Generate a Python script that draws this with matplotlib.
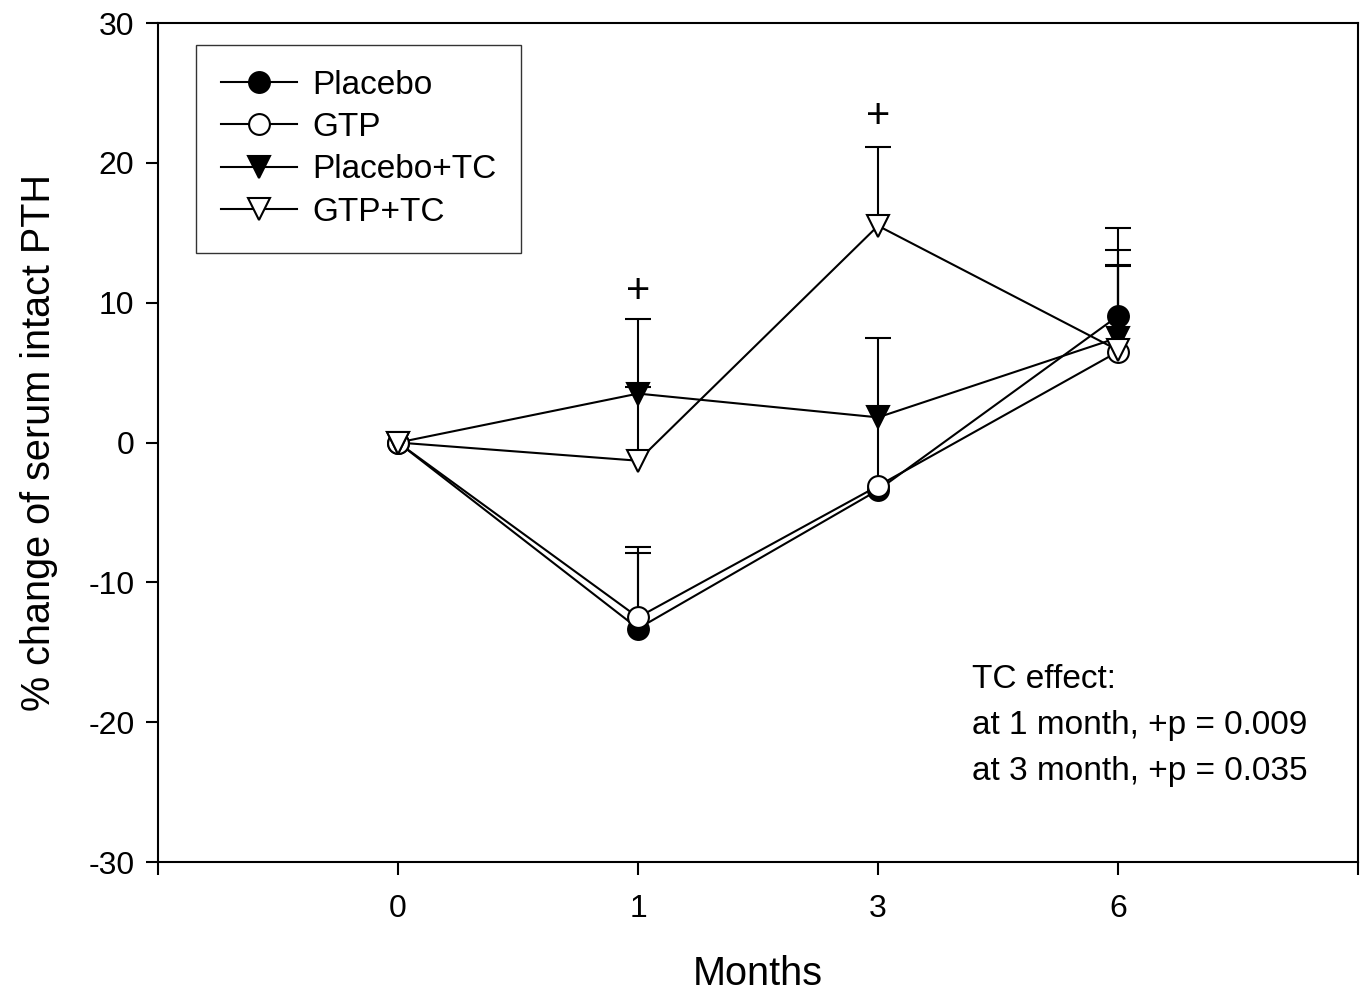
import numpy as np
import matplotlib
matplotlib.use("Agg")
import matplotlib.pyplot as plt
from matplotlib.lines import Line2D

plt.rcParams['font.family'] = ['Liberation Sans', 'DejaVu Sans']
plt.rcParams['axes.unicode_minus'] = False

months = ['0', '1', '3', '6']

placebo = [0, -13.3, -3.4, 9.05]
gtp = [0, -12.5, -3.1, 6.5]
placebo_tc = [0, 3.5, 1.8, 7.5]
gtp_tc = [0, -1.3, 15.5, 6.6]

# upper error bars only (SE)
placebo_err = [0, 5.8, 0, 6.3]
gtp_err = [0, 4.6, 10.6, 6.1]
placebo_tc_err = [0, 0.5, 0, 6.3]
gtp_tc_err = [0, 10.1, 5.6, 6.1]

plus_y = [10.8, 23.3]
plus_x = [1, 2]

fig = plt.figure(figsize=(13.65, 9.92), dpi=100)
ax = fig.add_axes([0.1158, 0.131, 0.8791, 0.8458])

x = np.arange(len(months))

series = [
    ("Placebo", placebo, placebo_err, 'o', 'black', 15),
    ("GTP", gtp, gtp_err, 'o', 'white', 15),
    ("Placebo+TC", placebo_tc, placebo_tc_err, 'v', 'black', 16),
    ("GTP+TC", gtp_tc, gtp_tc_err, 'v', 'white', 16),
]

handles = []
for name, vals, err, mk, fc, ms in series:
    vals = np.array(vals, dtype=float)
    err = np.array(err, dtype=float)
    keep = err > 0
    eb = ax.errorbar(x[keep], vals[keep], yerr=[np.zeros(keep.sum()), err[keep]],
                     fmt='none', ecolor='black', elinewidth=1.5,
                     capsize=9.5, capthick=1.5, zorder=1)
    # hide the lower caps
    eb[1][0].set_visible(False)
    ax.plot(x, vals, '-', color='black', lw=1.5, zorder=2)
    ax.plot(x, vals, linestyle='none', marker=mk, mfc=fc, mec='black',
            ms=ms, mew=1.5, zorder=3)
    handles.append(Line2D([], [], color='black', lw=1.5, marker=mk, mfc=fc,
                          mec='black', ms=ms, mew=1.5, label=name))

for px, py in zip(plus_x, plus_y):
    ax.text(px, py, "+", ha='center', va='center', fontsize=30)

ax.set_xlim(-1, 4)
ax.set_ylim(-30, 30)
ax.set_xticks([-1, 0, 1, 2, 3, 4])
ax.set_xticklabels([''] + months + [''])
ax.set_yticks(np.arange(-30, 31, 10))
ax.tick_params(axis='both', direction='out', length=9, width=1.5,
               labelsize=23)
ax.tick_params(axis='x', pad=14)
ax.tick_params(axis='y', pad=8)
for sp in ax.spines.values():
    sp.set_linewidth(1.5)

ax.set_xlabel("Months", fontsize=28.5, labelpad=22)
ax.set_ylabel("% change of serum intact PTH", fontsize=28.5, labelpad=22)

leg = ax.legend(handles=handles, loc='upper left',
                bbox_to_anchor=(0.0317, 0.974), fontsize=24,
                frameon=True, fancybox=False, edgecolor='black',
                handlelength=2.28, handletextpad=0.45, labelspacing=0.34,
                borderpad=0.75, borderaxespad=0)
leg.get_frame().set_linewidth(1.0)

ax.text(0.678, 0.236, "TC effect:\nat 1 month, +p = 0.009\nat 3 month, +p = 0.035",
        transform=ax.transAxes, fontsize=24, va='top', ha='left',
        linespacing=1.62)

fig.savefig("out.png", dpi=100)
